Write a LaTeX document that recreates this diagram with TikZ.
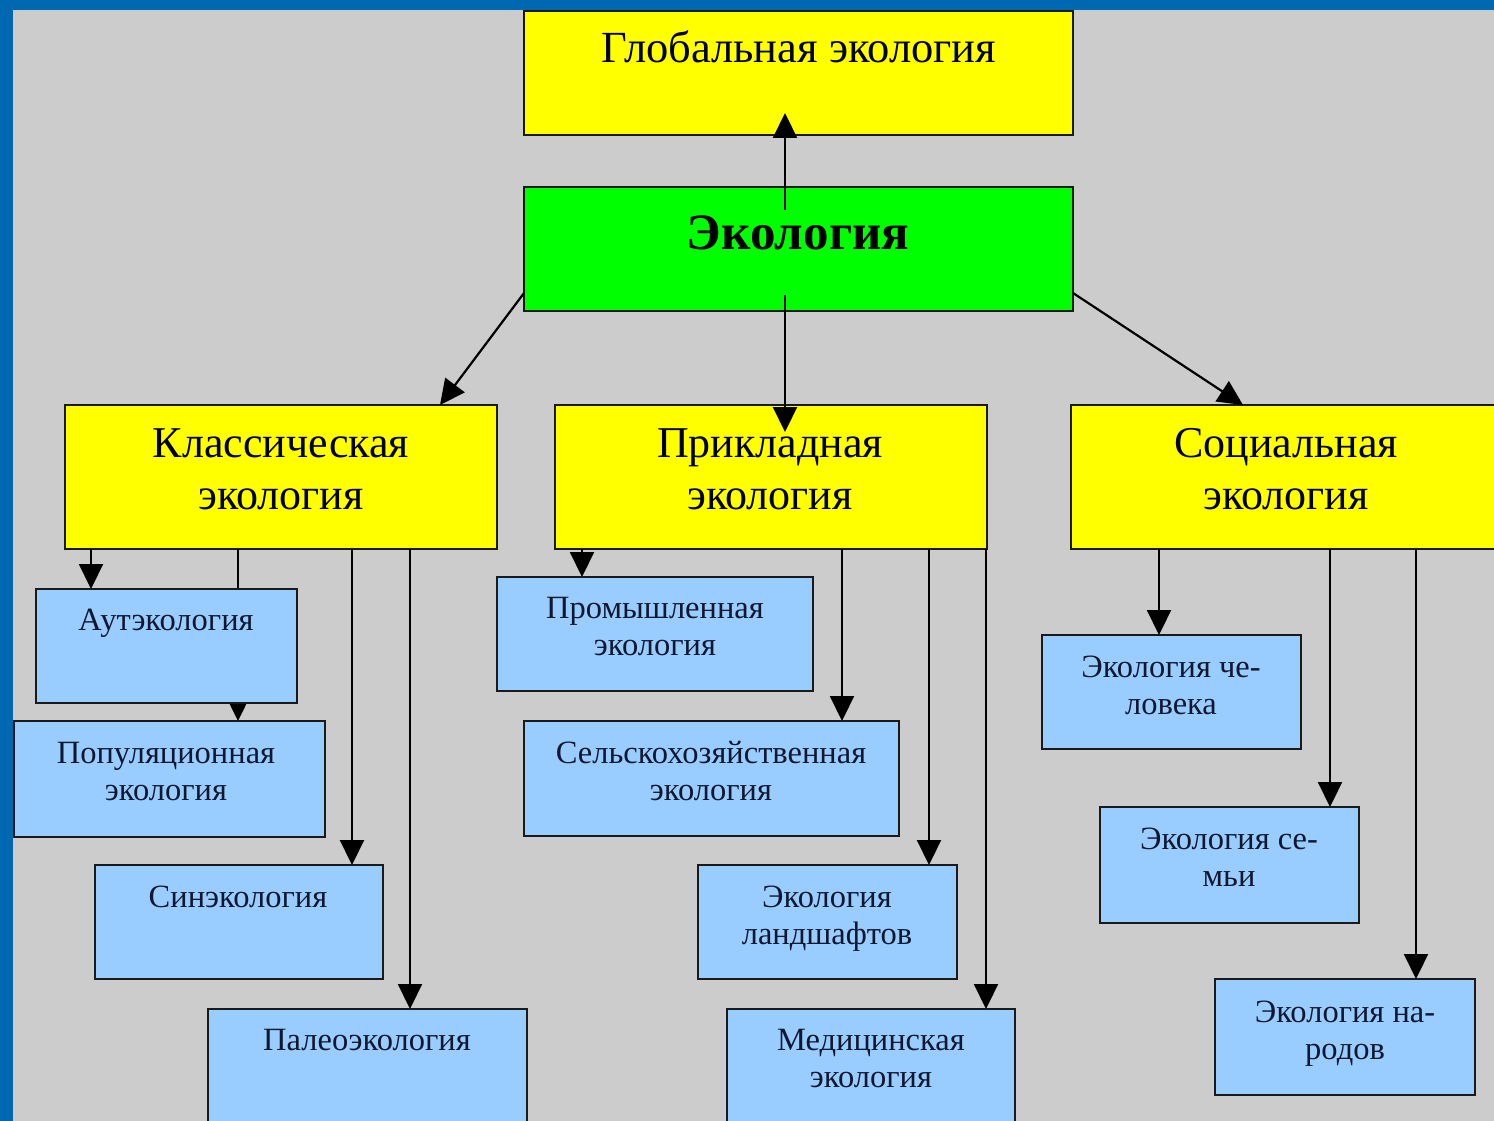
\documentclass[tikz,border=0pt]{standalone}
\usepackage{fontspec}
\setmainfont{Liberation Serif}
\usetikzlibrary{arrows.meta,calc}
\definecolor{frameblue}{HTML}{0068B0}
\definecolor{bggray}{HTML}{CCCCCC}
\definecolor{boxyellow}{HTML}{FFFF00}
\definecolor{boxgreen}{HTML}{00FF00}
\definecolor{boxblue}{HTML}{99CCFF}
\definecolor{edge}{HTML}{1A1A1A}
\definecolor{textblue}{HTML}{101830}
\newcommand\twolines[2]{\begin{tabular}[t]{@{}c@{}}#1\\#2\end{tabular}}
\begin{document}
\begin{tikzpicture}[x=1pt,y=-1pt,
  boxbase/.style={draw=edge, line width=2pt, anchor=north west, inner sep=0pt, outer sep=0pt},
  ybox/.style={boxbase, fill=boxyellow},
  gbox/.style={boxbase, fill=boxgreen},
  bbox/.style={boxbase, fill=boxblue},
  bigtxt/.style={anchor=base, inner sep=0pt, text=black, font=\fontsize{44}{52}\selectfont},
  smalltxt/.style={anchor=base, inner sep=0pt, text=textblue, font=\fontsize{32.5}{37.5}\selectfont},
  arr/.style={draw=black, line width=2.2pt, -{Triangle[width=24pt,length=25pt]}},
  plainline/.style={draw=black, line width=2.2pt}]
\path[use as bounding box, clip] (0,0) rectangle (1494,1121);
\fill[frameblue] (0,0) rectangle (1494,1121);
\fill[bggray] (13,10) rectangle (1494,1121);

% x positions for connectors
\foreach \n/\x in {c91/91,c238/238,c352/352,c410/410,c440/440,c582/582,c785/785,
  c842/842,c929/929,c986/986,c1159/1159,c1243/1243,c1330/1330,c1416/1416}
  \coordinate (\n) at (\x,0);

% top boxes
\node[ybox, minimum width=549pt, minimum height=124pt] (glob) at (524,11) {};
\node[gbox, minimum width=549pt, minimum height=124pt] (eco) at (524,187) {};
\node[bigtxt, font=\fontsize{44.5}{52}\selectfont] (globT) at (799,63) {Глобальная экология};
\node[bigtxt, font=\fontsize{51}{58}\selectfont\bfseries] (ecoT) at (798,249) {Экология};

% second level
\node[ybox, minimum width=432pt, minimum height=144pt] (klass) at (65,405) {};
\node[ybox, minimum width=432pt, minimum height=144pt] (prikl) at (555,405) {};
\node[ybox, minimum width=440pt, minimum height=144pt] (soc) at (1071,405) {};
\node[bigtxt] (klassT) at (281,457) {\twolines{Классическая}{экология}};
\node[bigtxt] (priklT) at (770,457) {\twolines{Прикладная}{экология}};
\node[bigtxt] (socT) at (1286,457) {\twolines{Социальная}{экология}};

% connectors from Экология
\draw[arr] ($(c785 |- eco.north)+(0,23)$) -- ($(c785 |- glob.south)+(0,-22)$);
\draw[arr] ($(c785 |- eco.south)+(0,-16)$) -- ($(c785 |- prikl.north)+(0,27)$);
\draw[arr] ($(eco.south west)+(0,-18)$) -- (c440 |- klass.north);
\draw[arr] ($(eco.south east)+(0,-18)$) -- (c1243 |- soc.north);

% classical branch
\node[bbox, minimum width=311pt, minimum height=116pt] (pop) at (14,721) {};
\draw[arr] (c238 |- klass.south) -- (c238 |- pop.north);
\node[bbox, minimum width=261pt, minimum height=114pt] (aut) at (36,589) {};
\node[bbox, minimum width=288pt, minimum height=114pt] (sin) at (95,865) {};
\node[bbox, minimum width=319pt, minimum height=130pt] (paleo) at (208,1009) {};
\draw[arr] (c91 |- klass.south) -- (c91 |- aut.north);
\draw[arr] (c352 |- klass.south) -- (c352 |- sin.north);
\draw[arr] (c410 |- klass.south) -- (c410 |- paleo.north);
\node[smalltxt] (autT) at (166,630) {Аутэкология};
\node[smalltxt] (popT) at (166,763) {\twolines{Популяционная}{экология}};
\node[smalltxt] (sinT) at (238,907) {Синэкология};
\node[smalltxt] (paleoT) at (367,1050) {Палеоэкология};

% applied branch
\node[bbox, minimum width=316pt, minimum height=114pt] (prom) at (497,577) {};
\node[bbox, minimum width=375pt, minimum height=115pt] (selk) at (524,721) {};
\node[bbox, minimum width=259pt, minimum height=114pt] (land) at (698,865) {};
\node[bbox, minimum width=288pt, minimum height=130pt] (med) at (727,1009) {};
\draw[arr] (c582 |- prikl.south) -- (c582 |- prom.north);
\draw[arr] (c842 |- prikl.south) -- (c842 |- selk.north);
\draw[arr] (c929 |- prikl.south) -- (c929 |- land.north);
\draw[arr] (c986 |- prikl.south) -- (c986 |- med.north);
\node[smalltxt] (promT) at (655,618) {\twolines{Промышленная}{экология}};
\node[smalltxt] (selkT) at (711,763) {\twolines{Сельскохозяйственная}{экология}};
\node[smalltxt] (landT) at (827,907) {\twolines{Экология}{ландшафтов}};
\node[smalltxt] (medT) at (871,1050) {\twolines{Медицинская}{экология}};

% social branch
\node[bbox, minimum width=259pt, minimum height=114pt] (chel) at (1042,635) {};
\node[bbox, minimum width=259pt, minimum height=116pt] (sem) at (1100,807) {};
\node[bbox, minimum width=260pt, minimum height=116pt] (nar) at (1215,979) {};
\draw[arr] (c1159 |- soc.south) -- (c1159 |- chel.north);
\draw[arr] (c1330 |- soc.south) -- (c1330 |- sem.north);
\draw[arr] (c1416 |- soc.south) -- (c1416 |- nar.north);
\node[smalltxt] (chelT) at (1171,677) {\twolines{Экология че-}{ловека}};
\node[smalltxt] (semT) at (1229,849) {\twolines{Экология се-}{мьи}};
\node[smalltxt] (narT) at (1345,1022) {\twolines{Экология на-}{родов}};
\end{tikzpicture}
\end{document}
